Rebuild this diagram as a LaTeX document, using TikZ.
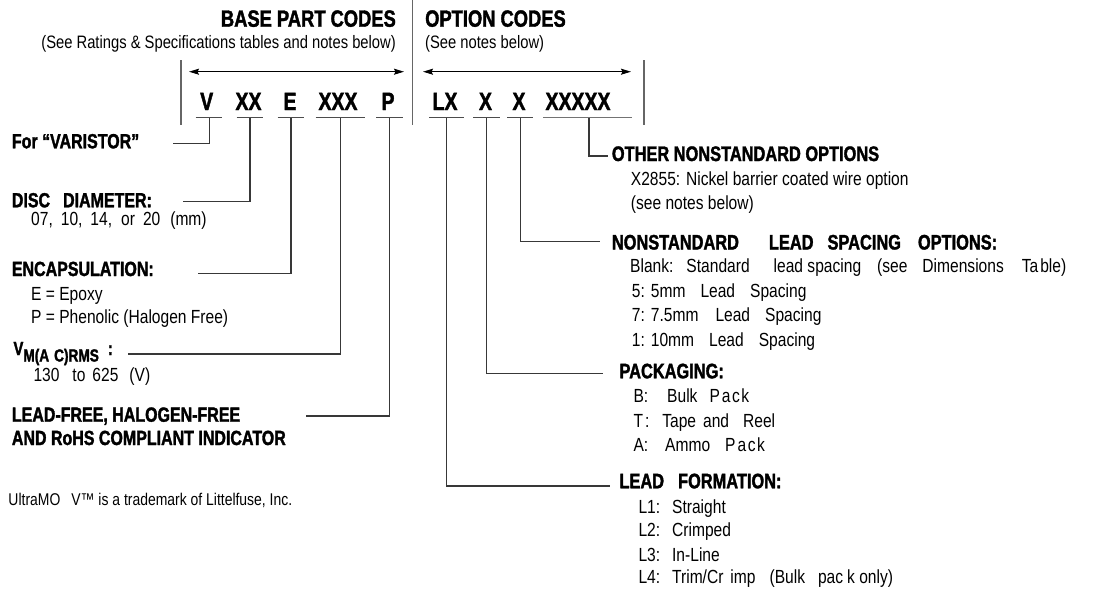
\documentclass[tikz,border=0pt]{standalone}
\usepackage{fontspec}
\setmainfont{Liberation Sans}[FakeStretch=0.82]
\newfontfamily\hdfont{Liberation Sans}[FakeStretch=0.78, BoldFeatures={FakeBold=1.6}]
\usetikzlibrary{arrows.meta}
\newcommand\gp[1]{\hspace{#1pt}}
\tikzset{
  txt/.style={inner sep=0pt, anchor=base west, font=\fontsize{19}{19}\selectfont},
  small/.style={inner sep=0pt, anchor=base west, font=\fontsize{18}{18}\selectfont},
  hdr/.style={inner sep=0pt, anchor=base west, font=\hdfont\bfseries\fontsize{20.5}{20.5}\selectfont},
  rhdr/.style={hdr, font=\hdfont\bfseries\fontsize{21}{21}\selectfont},
  ttl/.style={inner sep=0pt, font=\hdfont\bfseries\fontsize{23.5}{23.5}\selectfont},
  code/.style={inner sep=0pt, anchor=base, font=\hdfont\bfseries\fontsize{25}{25}\selectfont},
  ln/.style={draw=black!78, line width=1.2pt},
  uln/.style={draw=black!70, line width=1.4pt},
  brk/.style={draw=black!60, line width=1.6pt},
  dimarrow/.style={draw=black, line width=1.1pt, {Stealth[length=10pt,width=6pt,inset=1.5pt]}-{Stealth[length=10pt,width=6pt,inset=1.5pt]}},
}
\begin{document}
\begin{tikzpicture}[x=1pt,y=-1pt]
\fill[white] (0,0) rectangle (1096,595);
\path[use as bounding box] (0,0) rectangle (1096,595);

% titles
\node[ttl, anchor=base east] (tBase) at (396,26.7) {BASE PART CODES};
\node[small, anchor=base east] (sBase) at (396,48) {(See Ratings \& Specifications tables and notes below)};
\node[ttl, anchor=base west] (tOpt) at (425,26.7) {OPTION CODES};
\node[small] (sOpt) at (425,48) {(See notes below)};

% divider and brackets
\coordinate (divT) at (412.3,0);
\coordinate (divB) at (412.3,125);
\draw[brk] (divT) -- (divB);
\coordinate (lbT) at (181,60);
\coordinate (lbB) at (181,125);
\draw[brk] (lbT) -- (lbB);
\coordinate (rbT) at (644,60);
\coordinate (rbB) at (644,125);
\draw[brk] (rbT) -- (rbB);
\coordinate (a1L) at (189,71.7);
\coordinate (a1R) at (404,71.7);
\draw[dimarrow] (a1L) -- (a1R);
\coordinate (a2L) at (423,71.7);
\coordinate (a2R) at (631,71.7);
\draw[dimarrow] (a2L) -- (a2R);

% codes
\node[code] (cV) at (206.7,110) {V};
\node[code] (cXX) at (248.5,110) {XX};
\node[code] (cE) at (290,110) {E};
\node[code] (cXXX) at (338,110) {XXX};
\node[code] (cP) at (388,110) {P};
\node[code] (cLX) at (445,110) {LX};
\node[code] (cX1) at (485.5,110) {X};
\node[code] (cX2) at (519,110) {X};
\node[code] (cX5) at (578,110) {XXXXX};

% underlines
\draw[uln] (195.7,117.7) -- (221.7,117.7);
\draw[uln] (236.7,117.7) -- (262.7,117.7);
\draw[uln] (277.7,117.7) -- (304.3,117.7);
\draw[uln] (315.7,117.7) -- (365,117.7);
\draw[uln] (376,117.7) -- (403.3,117.7);
\draw[uln] (429.3,117.7) -- (464.3,117.7);
\draw[uln] (473.3,117.7) -- (500,117.7);
\draw[uln] (507.3,117.7) -- (533.3,117.7);
\draw[uln, draw=black!55] (543.3,117.7) -- (631.7,117.7);

% left labels
\node[hdr] (lVar) at (11.7,148.3) {For “VARISTOR”};
\node[hdr] (lDisc) at (11.7,207.3) {DISC\gp{13}DIAMETER:};
\node[txt] (lDisc1) at (31,225) {07,\gp{8}10,\gp{8}14,\gp{9}or\gp{8}20\gp{10}(mm)};
\node[hdr] (lEnc) at (11.7,276) {ENCAPSULATION:};
\node[txt] (lEnc1) at (31,300) {E = Epoxy};
\node[txt] (lEnc2) at (31,323.3) {P = Phenolic (Halogen Free)};
\node[hdr, font=\hdfont\bfseries\fontsize{19}{19}\selectfont] (lVm) at (13.3,355)
  {V\raisebox{-6.5pt}{\fontsize{17.5}{17.5}\selectfont M(A\gp{5}C)RMS}\gp{9}:};
\node[txt] (lVm1) at (33.3,381.7) {130\gp{13}to\gp{7}625\gp{11}(V)};
\node[hdr] (lLf1) at (11.7,421.7) {LEAD-FREE, HALOGEN-FREE};
\node[hdr] (lLf2) at (11.7,445) {AND RoHS COMPLIANT INDICATOR};
\node[txt, font=\fontsize{17}{17}\selectfont] (lTm) at (8.3,505) {UltraMO\gp{11}V™ is a trademark of Littelfuse, Inc.};

% right labels
\node[rhdr] (rOth) at (611.7,161) {OTHER NONSTANDARD OPTIONS};
\node[txt] (rOth1) at (630.7,185) {X2855: Nickel barrier coated wire option};
\node[txt] (rOth2) at (630.7,209.3) {(see notes below)};
\node[rhdr] (rNs) at (611.7,249.5) {NONSTANDARD\gp{30}LEAD\gp{14}SPACING\gp{17}OPTIONS:};
\node[txt] (rNs1) at (630,272.7) {Blank:\gp{13}Standard\gp{24}lead spacing\gp{16}(see\gp{15}Dimensions\gp{18}Ta\kern2pt ble)};
\node[txt] (rNs2) at (631.7,297) {5:\gp{6}5mm\gp{15}Lead\gp{15}Spacing};
\node[txt] (rNs3) at (631.7,321.5) {7:\gp{6}7.5mm\gp{17}Lead\gp{15}Spacing};
\node[txt] (rNs4) at (631.7,346) {1:\gp{6}10mm\gp{15}Lead\gp{15}Spacing};
\node[rhdr] (rPk) at (619.3,378.3) {PACKAGING:};
\node[txt] (rPk1) at (633.3,402) {B:\gp{19}Bulk\gp{12}P\kern2pt a\kern1.5pt c\kern1.5pt k};
\node[txt] (rPk2) at (633.3,427) {T\kern2pt:\gp{13}Tape\gp{7}and\gp{14}Reel};
\node[txt] (rPk3) at (633.3,451.7) {A:\gp{17}Ammo\gp{15}P\kern2pt a\kern1.5pt c\kern1.5pt k};
\node[rhdr] (rLf) at (619.3,488.3) {LEAD\gp{14}FORMATION:};
\node[txt] (rLf1) at (638.3,513.3) {L1:\gp{12}Straight};
\node[txt] (rLf2) at (638.3,536.7) {L2:\gp{12}Crimped};
\node[txt] (rLf3) at (638.3,561.7) {L3:\gp{12}In-Line};
\node[txt] (rLf4) at (638.3,583.3) {L4:\gp{12}Trim/Cr\gp{7}imp\gp{14}(Bulk\gp{13}pac\gp{4}k only)};

% connectors
\coordinate (dV) at (209.3,117.7);   \coordinate (eV) at (173.3,143.3);
\coordinate (dXX) at (250,117.7);    \coordinate (eXX) at (182.7,201.7);
\coordinate (dE) at (291,117.7);     \coordinate (eE) at (197.7,273.3);
\coordinate (dXXX) at (340.7,117.7); \coordinate (eXXX) at (127.7,354);
\coordinate (dP) at (389.3,117.7);   \coordinate (eP) at (305.7,416);
\coordinate (dLX) at (446.7,117.7);  \coordinate (eLX) at (610,486);
\coordinate (dX1) at (486.7,117.7);  \coordinate (eX1) at (603.3,373.3);
\coordinate (dX2) at (520.7,117.7);  \coordinate (eX2) at (600,241.7);
\coordinate (dX5) at (589,117.7);    \coordinate (eX5) at (608.3,156);
\draw[ln] (dV) |- (eV);
\draw[ln] (dXX) |- (eXX);
\draw[ln] (dE) |- (eE);
\draw[ln] (dXXX) |- (eXXX);
\draw[ln] (dP) |- (eP);
\draw[ln] (dLX) |- (eLX);
\draw[ln] (dX1) |- (eX1);
\draw[ln] (dX2) |- (eX2);
\draw[ln] (dX5) |- (eX5);
\end{tikzpicture}
\end{document}
